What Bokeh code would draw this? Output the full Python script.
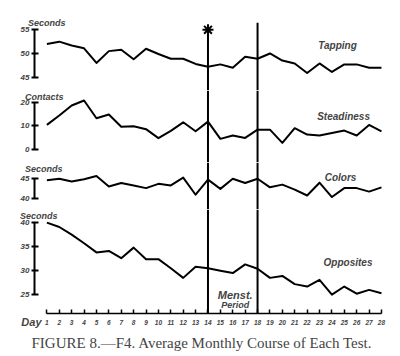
from bokeh.plotting import figure
from bokeh.layouts import column
from bokeh.models import Range1d, FixedTicker, Span, Label, Title
from bokeh.embed import file_html
from bokeh.resources import INLINE

days = list(range(1, 29))
tapping = [52.0, 52.5, 51.7, 51.1, 48.0, 50.5, 50.8, 48.8, 51.0, 49.9, 48.9, 48.9, 47.8, 47.2,
           47.7, 47.0, 49.3, 48.9, 50.0, 48.5, 47.9, 45.9, 47.9, 46.1, 47.7, 47.7, 47.0, 47.0]
steadiness = [10.4, 14.4, 18.6, 20.7, 13.2, 14.8, 9.6, 9.8, 8.6, 4.8, 7.9, 11.5, 7.7, 11.8,
              4.5, 5.9, 4.9, 8.4, 8.4, 2.8, 9.0, 6.3, 5.9, 7.0, 8.0, 5.9, 10.4, 7.7]
colors = [44.6, 45.0, 44.3, 44.9, 45.7, 43.0, 43.9, 43.3, 42.6, 43.7, 43.3, 45.3, 40.9, 44.8,
          42.4, 45.0, 43.9, 45.0, 42.8, 43.5, 42.2, 40.7, 44.0, 40.3, 42.6, 42.6, 41.7, 42.8]
opposites = [40.0, 39.1, 37.5, 35.7, 33.8, 34.1, 32.6, 34.8, 32.4, 32.4, 30.5, 28.5, 30.8, 30.5,
             30.0, 29.5, 31.3, 30.4, 28.5, 28.9, 27.2, 26.7, 28.1, 25.0, 26.7, 25.2, 26.0, 25.3]
period_days = [14, 18]
star_value = 55.0

tap_ticks = [45, 50, 55]
std_ticks = [0, 10, 20]
col_ticks = [40, 45]
opp_ticks = [25, 30, 35, 40]

test_names = ["Tapping", "Steadiness", "Colors", "Opposites"]
unit_names = ["Seconds", "Contacts", "Seconds", "Seconds"]
x_name = "Day"
caption = "FIGURE 8.\u2014F4.  Average Monthly Course of Each Test."

HAND = "Liberation Sans"
xr = Range1d(0, 28.89)


def make_panel(height, yr, ticks, data, name, name_xy, unit, unit_pad, unit_standoff,
               top=0, bottom=0, xaxis=False):
    p = figure(width=384, height=height, x_range=xr, y_range=Range1d(*yr),
               output_backend="svg", toolbar_location=None, title=None,
               min_border_left=26, min_border_right=0, min_border_top=top,
               min_border_bottom=bottom, x_axis_location="below" if xaxis else None,
               outline_line_color=None)
    p.xgrid.visible = False
    p.ygrid.visible = False
    ax = p.yaxis[0]
    ax.ticker = FixedTicker(ticks=ticks)
    ax.bounds = (min(ticks), max(ticks))
    ax.axis_line_width = 2
    ax.major_tick_line_width = 2
    ax.major_tick_in = 4
    ax.major_tick_out = 3
    ax.minor_tick_line_color = None
    ax.major_label_text_font = HAND
    ax.major_label_text_font_size = "8px"
    ax.major_label_text_font_style = "bold italic"
    ax.major_label_standoff = 2
    ax.axis_label = "\n" * unit_pad + unit
    ax.axis_label_orientation = "horizontal"
    ax.axis_label_align = "end"
    ax.axis_label_standoff = unit_standoff
    ax.axis_label_text_font = HAND
    ax.axis_label_text_font_size = "9px"
    ax.axis_label_text_font_style = "bold italic"
    p.line(days, data, line_color="black", line_width=2, line_join="round")
    p.add_layout(Label(x=name_xy[0], y=name_xy[1], text=name, text_align="center",
                       text_baseline="middle", text_font=HAND, text_font_size="10px",
                       text_font_style="bold italic"))
    return p


f1 = make_panel(82, (42.19, 56.54), tap_ticks, tapping, test_names[0], (24.45, 51.75),
                unit_names[0], 0, -48, top=14)
f1.add_layout(Span(location=period_days[1], dimension="height", line_color="black", line_width=2))
f1.segment(x0=[period_days[0]], y0=[star_value], x1=[period_days[0]], y1=[f1.y_range.start],
           line_color="black", line_width=2)
f1.scatter([period_days[0]], [star_value], marker="asterisk", size=11, line_color="black", line_width=2)

f2 = make_panel(72, (-5.50, 24.95), std_ticks, steadiness, test_names[1], (24.94, 14.08),
                unit_names[1], 1, -46)
f3 = make_panel(47, (37.09, 49.20), col_ticks, colors, test_names[2], (24.7, 45.41),
                unit_names[2], 1, -45)
f4 = make_panel(143, (21.08, 42.74), opp_ticks, opposites, test_names[3], (25.3, 31.8),
                unit_names[3], 1, -40, bottom=38, xaxis=True)
for f in (f2, f3, f4):
    for d in period_days:
        f.add_layout(Span(location=d, dimension="height", line_color="black", line_width=2))

xa = f4.xaxis[0]
xa.ticker = FixedTicker(ticks=days)
xa.bounds = (1, 28)
xa.axis_line_width = 1.5
xa.major_tick_in = 4
xa.major_tick_out = 0
xa.major_tick_line_width = 1.5
xa.minor_tick_line_color = None
xa.major_label_text_font = HAND
xa.major_label_text_font_size = "6.5px"
xa.major_label_text_font_style = "bold italic"
xa.major_label_standoff = 6
xa.axis_label = x_name + "\u00a0\u00a0"
xa.axis_label_align = "start"
xa.axis_label_standoff = -12
xa.axis_label_text_font = HAND
xa.axis_label_text_font_size = "11px"
xa.axis_label_text_font_style = "bold italic"
xa.axis_label_text_align = "right"

mid = (period_days[0] + period_days[1]) / 2 + 0.2
f4.add_layout(Label(x=mid, y=25.0, text="Menst.", text_align="center", text_baseline="middle",
                    text_font=HAND, text_font_size="11px", text_font_style="bold italic"))
f4.add_layout(Label(x=mid, y=22.8, text="Period", text_align="center", text_baseline="middle",
                    text_font=HAND, text_font_size="9px", text_font_style="bold italic"))
f4.add_layout(Title(text=caption, align="left", offset=-3, text_font="Liberation Serif",
                    text_font_size="15px", text_font_style="normal", standoff=4), "below")

layout = column(f1, f2, f3, f4, spacing=0, margin=(8, 0, 0, 8))
open("out.html", "w").write(file_html(layout, INLINE))
